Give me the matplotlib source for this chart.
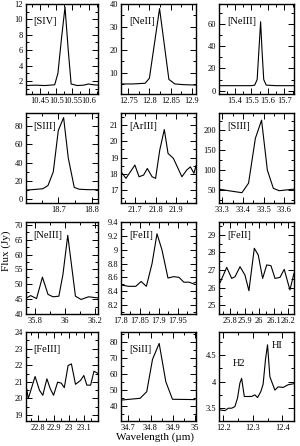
import numpy as np
import matplotlib
matplotlib.use("Agg")
import matplotlib.pyplot as plt
from matplotlib.ticker import MultipleLocator, FuncFormatter

plt.rcParams['font.family'] = ['Liberation Serif', 'DejaVu Serif']

# line labels
names = ["[SIV]", "[NeII]", "[NeIII]", "[SIII]", "[ArIII]", "[SIII]",
         "[NeIII]", "[FeII]", "[FeII]", "[FeIII]", "[SiII]", ""]

# spectra (wavelength um, flux Jy)
siv_x = [10.405, 10.435, 10.465, 10.495, 10.505, 10.516, 10.527, 10.537, 10.546, 10.565, 10.585, 10.60, 10.615, 10.63]
siv_y = [1.4, 1.45, 1.4, 1.5, 3.0, 7.5, 11.6, 6.0, 1.6, 1.4, 1.45, 1.6, 1.5, 1.45]

neii_x = [12.733, 12.76, 12.79, 12.800, 12.824, 12.846, 12.86, 12.88, 12.91]
neii_y = [5.0, 5.0, 5.3, 7.5, 38.0, 7.0, 5.0, 4.7, 4.5]

neiii1_x = [15.30, 15.40, 15.50, 15.52, 15.535, 15.545, 15.556, 15.565, 15.575, 15.59, 15.65, 15.76]
neiii1_y = [4.5, 4.5, 4.5, 5.0, 10.0, 35.0, 62.0, 35.0, 10.0, 5.0, 4.5, 4.5]

siii1_x = [18.60, 18.62, 18.653, 18.669, 18.685, 18.70, 18.716, 18.73, 18.748, 18.763, 18.79, 18.82]
siii1_y = [10.0, 10.5, 11.5, 15.0, 30.0, 75.0, 89.0, 45.0, 13.0, 11.0, 10.5, 10.5]

ariii_x = [21.633, 21.657, 21.70, 21.72, 21.742, 21.76, 21.783, 21.80, 21.82, 21.842, 21.86, 21.886, 21.927, 21.95, 21.968, 21.985, 21.995]
ariii_y = [18.13, 17.72, 18.54, 17.82, 17.92, 18.33, 17.82, 17.72, 19.46, 20.73, 19.26, 18.95, 17.82, 18.23, 18.43, 18.03, 18.5]

siii2_x = [33.284, 33.33, 33.395, 33.427, 33.46, 33.49, 33.518, 33.547, 33.575, 33.647]
siii2_y = [52, 48, 43, 67, 180, 226, 100, 54, 48, 52]

neiii2_x = [35.741, 35.772, 35.811, 35.85, 35.887, 35.92, 35.959, 35.986, 36.018, 36.069, 36.106, 36.156, 36.22]
neiii2_y = [45.3, 46.2, 45.2, 52.4, 46.6, 45.8, 46.0, 53.3, 66.5, 46.0, 44.9, 45.8, 45.4]

feii1_x = [17.80, 17.82, 17.839, 17.853, 17.867, 17.882, 17.895, 17.908, 17.924, 17.939, 17.953, 17.966, 17.98, 17.989, 17.998]
feii1_y = [8.49, 8.47, 8.47, 8.54, 8.47, 8.80, 9.23, 9.00, 8.59, 8.61, 8.60, 8.53, 8.53, 8.51, 8.53]

feii2_x = [25.725, 25.732, 25.778, 25.812, 25.835, 25.869, 25.903, 25.93, 25.967, 25.994, 26.024, 26.052, 26.081, 26.109, 26.143, 26.172, 26.211, 26.239]
feii2_y = [26.43, 26.28, 27.15, 26.52, 26.62, 27.19, 26.71, 25.82, 28.24, 27.86, 26.52, 27.29, 27.25, 26.52, 26.58, 27.04, 25.86, 26.81]

feiii_x = [22.718, 22.733, 22.778, 22.807, 22.829, 22.856, 22.878, 22.90, 22.927, 22.951, 22.971, 22.996, 23.018, 23.045, 23.078, 23.10, 23.12, 23.145, 23.167, 23.19]
feiii_y = [20.79, 19.99, 21.32, 20.49, 20.19, 21.18, 20.59, 20.19, 20.98, 20.92, 20.65, 21.98, 22.08, 20.85, 21.08, 21.38, 20.8, 20.8, 21.64, 21.52]

siii_x = [34.667, 34.753, 34.783, 34.809, 34.839, 34.869, 34.899, 35.0]
siii_y = [43.7, 44.8, 48.9, 69.0, 78.9, 55.1, 44.2, 44.0]

hi_x = [12.185, 12.205, 12.217, 12.228, 12.239, 12.248, 12.256, 12.262, 12.271, 12.284, 12.296, 12.307, 12.316, 12.327, 12.335, 12.343, 12.35, 12.358, 12.375, 12.386, 12.403, 12.42, 12.44]
hi_y = [3.47, 3.455, 3.5, 3.5, 3.53, 3.69, 3.97, 4.06, 3.72, 3.72, 3.72, 3.75, 3.70, 3.81, 3.95, 4.41, 4.69, 4.09, 3.84, 3.90, 3.89, 3.94, 3.96]

spectra = [(siv_x, siv_y), (neii_x, neii_y), (neiii1_x, neiii1_y),
           (siii1_x, siii1_y), (ariii_x, ariii_y), (siii2_x, siii2_y),
           (neiii2_x, neiii2_y), (feii1_x, feii1_y), (feii2_x, feii2_y),
           (feiii_x, feiii_y), (siii_x, siii_y), (hi_x, hi_y)]

# axis limits and tick steps (major, minor) per panel
xlims = [(10.405, 10.63), (12.733, 12.91), (15.303, 15.759),
         (18.602, 18.82), (21.633, 21.995), (33.284, 33.647),
         (35.739, 36.22), (17.80, 17.998), (25.725, 26.239),
         (22.716, 23.195), (34.667, 35.005), (12.185, 12.44)]
ylims = [(0.3, 12.0), (0.6, 40.0), (-3, 78),
         (-4, 94), (16.2, 21.75), (17, 244),
         (40, 71), (8.07, 9.4), (24.49, 29.74),
         (18.64, 24.0), (30.7, 86), (3.26, 4.93)]
xsteps = [(0.05, 0.025), (0.05, 0.025), (0.1, 0.05), (0.1, 0.05), (0.1, 0.05), (0.1, 0.05),
          (0.2, 0.1), (0.05, 0.025), (0.1, 0.05), (0.1, 0.05), (0.1, 0.05), (0.1, 0.05)]
ysteps = [(2, 1), (10, 5), (20, 10), (20, 10), (1, 0.5), (50, 25),
          (5, 2.5), (0.2, 0.1), (1, 0.5), (1, 0.5), (10, 5), (0.5, 0.25)]

fig = plt.figure(figsize=(3.0, 4.46), dpi=100)
W, H = 300.0, 446.0
col_left = [25.7, 121.0, 219.0]
col_w = [72.5, 75.0, 75.0]
row_top = [4.0, 113.0, 222.0, 332.0]
row_bot = [94.0, 203.0, 314.0, 421.0]

gfmt = FuncFormatter(lambda v, p: "%g" % round(v, 4))

for i in range(12):
    r, c = divmod(i, 3)
    ax = fig.add_axes([col_left[c] / W, 1 - row_bot[r] / H, col_w[c] / W,
                       (row_bot[r] - row_top[r]) / H])
    x, y = spectra[i]
    ax.plot(x, y, color='black', lw=0.8)
    ax.set_xlim(*xlims[i])
    ax.set_ylim(*ylims[i])
    ax.xaxis.set_major_locator(MultipleLocator(xsteps[i][0]))
    ax.xaxis.set_minor_locator(MultipleLocator(xsteps[i][1]))
    ax.yaxis.set_major_locator(MultipleLocator(ysteps[i][0]))
    ax.yaxis.set_minor_locator(MultipleLocator(ysteps[i][1]))
    ax.xaxis.set_major_formatter(gfmt)
    ax.yaxis.set_major_formatter(gfmt)
    ax.tick_params(which='both', direction='in', top=True, right=True,
                   labelsize=6, pad=2, width=0.7)
    ax.tick_params(which='major', length=4)
    ax.tick_params(which='minor', length=2)
    for s in ax.spines.values():
        s.set_linewidth(1.0)
    if names[i]:
        ty = 0.80 if r in (0, 3) else 0.85
        ax.text(0.11, ty, names[i], transform=ax.transAxes, fontsize=7.5,
                ha='left', va='center')
    if i == 11:
        ax.text(0.27, 0.65, "H2", transform=ax.transAxes, fontsize=7.5,
                ha='center', va='center')
        ax.text(0.78, 0.85, "HI", transform=ax.transAxes, fontsize=7.5,
                ha='center', va='center')

fig.text(155 / W, 1 - 437 / H, "Wavelength (\u00b5m)", fontsize=8,
         ha='center', va='center')
fig.text(6 / W, 1 - 251 / H, "Flux (Jy)", fontsize=8, rotation=90,
         ha='center', va='center')

fig.savefig("out.png", dpi=100)
